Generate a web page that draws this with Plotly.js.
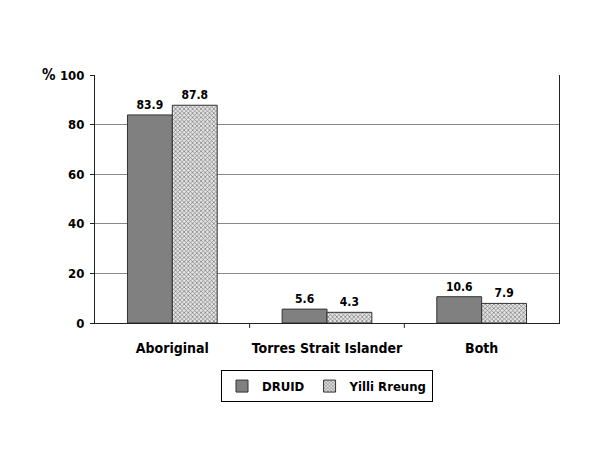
<!DOCTYPE html>
<html>
<head>
<meta charset="utf-8">
<script src="https://cdn.plot.ly/plotly-3.0.1.min.js"></script>
<style>body{margin:0;background:#fff;} #chart{width:600px;height:450px;}</style>
</head>
<body>
<div id="chart"></div>
<script>
// categories and values
var categories = ['Aboriginal', 'Torres Strait Islander', 'Both'];
var druid = [83.9, 5.6, 10.6];
var yilli = [87.8, 4.3, 7.9];
var yTicks = [0, 20, 40, 60, 80, 100];

var narrow = 'DejaVu Sans Condensed, Liberation Sans, sans-serif';

var druidTrace = {
    x: categories,
    y: druid,
    name: 'DRUID',
    type: 'bar',
    text: druid.map(function (v) { return v.toFixed(1); }),
    textposition: 'outside',
    cliponaxis: false,
    textfont: {family: narrow, size: 12, color: '#000', weight: 'bold'},
    marker: {color: '#808080', line: {color: '#333', width: 1}}
};

var yilliTrace = {
    x: categories,
    y: yilli,
    name: 'Yilli Rreung',
    type: 'bar',
    text: yilli.map(function (v) { return v.toFixed(1); }),
    textposition: 'outside',
    cliponaxis: false,
    textfont: {family: narrow, size: 12, color: '#000', weight: 'bold'},
    marker: {
        color: '#ffffff',
        line: {color: '#333', width: 1},
        pattern: {shape: 'x', fgcolor: '#777', bgcolor: '#e4e4e4', size: 3, solidity: 0.4}
    }
};

var layout = {
    width: 600,
    height: 450,
    margin: {l: 95, r: 41, t: 75, b: 127},
    paper_bgcolor: '#fff',
    plot_bgcolor: '#fff',
    barmode: 'group',
    bargap: 0.42,
    bargroupgap: 0,
    font: {family: narrow, size: 13, color: '#000'},
    xaxis: {
        type: 'category',
        showline: true,
        linecolor: '#222',
        linewidth: 1,
        ticks: '',
        ticklabelstandoff: 12,
        tickfont: {family: narrow, size: 14, color: '#000', weight: 'bold'},
        showgrid: false
    },
    yaxis: {
        range: [0, 100],
        tickvals: yTicks,
        showline: true,
        mirror: true,
        linecolor: '#222',
        linewidth: 1,
        ticks: 'outside',
        ticklen: 4,
        tickcolor: '#222',
        gridcolor: '#888',
        gridwidth: 1,
        zeroline: false,
        ticklabelstandoff: 3,
        tickfont: {family: narrow, size: 13, color: '#000', weight: 'bold'}
    },
    showlegend: true,
    legend: {
        orientation: 'h',
        x: 0.5,
        xanchor: 'center',
        y: -0.19,
        yanchor: 'top',
        bordercolor: '#000',
        borderwidth: 1,
        tracegroupgap: 0,
        font: {family: narrow, size: 13, color: '#000', weight: 'bold'},
        itemwidth: 30
    },
    annotations: [{
        text: '%',
        xref: 'paper',
        yref: 'paper',
        x: -0.08,
        y: 1.0,
        xanchor: 'right',
        yanchor: 'middle',
        showarrow: false,
        font: {family: narrow, size: 15, color: '#000', weight: 'bold'}
    }],
    shapes: [
        {type: 'line', xref: 'x', yref: 'paper', x0: 0.5, x1: 0.5, y0: 0, y1: -0.02, line: {color: '#222', width: 1}},
        {type: 'line', xref: 'x', yref: 'paper', x0: 1.5, x1: 1.5, y0: 0, y1: -0.02, line: {color: '#222', width: 1}}
    ]
};

Plotly.newPlot('chart', [druidTrace, yilliTrace], layout, {displayModeBar: false, staticPlot: true});
</script>
</body>
</html>
